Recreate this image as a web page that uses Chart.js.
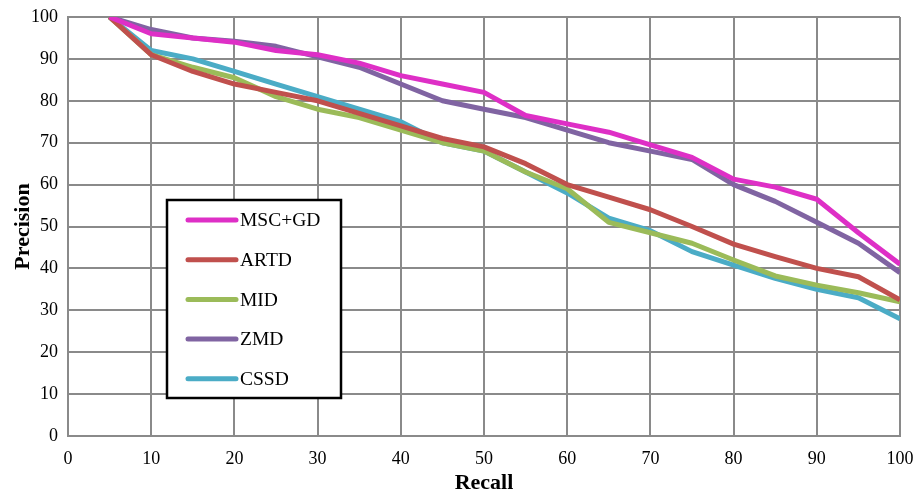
<!DOCTYPE html>
<html>
<head>
<meta charset="utf-8">
<script src="https://cdn.jsdelivr.net/npm/chart.js@4.4.1/dist/chart.umd.min.js"></script>
<style>
  html, body { margin: 0; padding: 0; background: #fff; }
  #wrap { width: 917px; height: 497px; }
</style>
</head>
<body>
<div id="wrap"><canvas id="prChart" width="917" height="497"></canvas></div>
<script>
// recall levels
const recall = [5, 10, 15, 20, 25, 30, 35, 40, 45, 50, 55, 60, 65, 70, 75, 80, 85, 90, 95, 100];

// precision per method
const mscgd = [100, 96, 95, 94, 92, 91, 89, 86, 84, 82, 76.5, 74.5, 72.5, 69.5, 66.5, 61.3, 59.4, 56.5, 48.5, 41];
const artd  = [100, 91, 87, 84, 82, 80, 77, 74, 71, 69, 65, 60, 57, 54, 50, 45.8, 42.8, 40, 38, 32.5];
const mid   = [100, 91, 88, 85.5, 81, 78, 76, 73, 70, 68, 63, 59, 51, 48.5, 46, 42, 38.2, 36, 34.2, 32];
const zmd   = [100, 97, 95, 94.2, 93, 90.5, 88, 84, 80, 78, 76, 73, 70, 68, 66, 60, 56, 51, 46, 39];
const cssd  = [100, 92, 90, 87, 84, 81, 78, 75, 70, 68, 63, 58, 52, 49, 44, 40.8, 37.6, 35, 33, 28];

const seriesNames = ['MSC+GD', 'ARTD', 'MID', 'ZMD', 'CSSD'];
const seriesColors = ['#de2fc6', '#c0504d', '#9bbb59', '#8064a2', '#4bacc6'];
const seriesData = [mscgd, artd, mid, zmd, cssd];

const serif = '"Liberation Serif", "Times New Roman", serif';

// legend box drawn inside the plot, like the original
const boxLegend = {
    id: 'boxLegend',
    afterDraw(chart) {
        const ctx = chart.ctx;
        const x0 = 167, y0 = 200, w = 174, h = 198;
        ctx.save();
        ctx.fillStyle = '#fff';
        ctx.fillRect(x0, y0, w, h);
        ctx.strokeStyle = '#000';
        ctx.lineWidth = 2.5;
        ctx.strokeRect(x0, y0, w, h);
        ctx.font = '19.5px ' + serif;
        ctx.textBaseline = 'middle';
        ctx.lineCap = 'round';
        chart.data.datasets.forEach((ds, i) => {
            const yy = y0 + 20 + i * 39.7;
            ctx.strokeStyle = ds.borderColor;
            ctx.lineWidth = 5;
            ctx.beginPath();
            ctx.moveTo(188, yy);
            ctx.lineTo(236, yy);
            ctx.stroke();
            ctx.fillStyle = '#000';
            ctx.fillText(ds.label, 240, yy + 1);
        });
        ctx.restore();
    }
};

const ctx = document.getElementById('prChart').getContext('2d');
new Chart(ctx, {
    type: 'line',
    data: {
        datasets: seriesNames.map((name, i) => ({
            label: name,
            data: recall.map((r, k) => ({ x: r, y: seriesData[i][k] })),
            borderColor: seriesColors[i],
            backgroundColor: seriesColors[i],
            borderWidth: 5,
            pointRadius: 0,
            tension: 0,
            borderJoinStyle: 'round',
            fill: false
        }))
    },
    options: {
        responsive: false,
        animation: false,
        layout: { padding: { top: 17, right: 17, left: 10, bottom: 0 } },
        plugins: {
            legend: { display: false },
            tooltip: { enabled: false }
        },
        scales: {
            x: {
                type: 'linear',
                min: 0, max: 100,
                ticks: { stepSize: 10, color: '#000', font: { family: serif, size: 18 }, padding: 12 },
                grid: { color: '#8a8a8a', lineWidth: 2, drawTicks: false },
                border: { color: '#8a8a8a', width: 2 },
                title: { display: true, text: 'Recall', color: '#000', font: { family: serif, size: 22, weight: 'bold' }, padding: { top: 3, bottom: 0 } },
                afterFit: s => { s.height = 61; s.paddingLeft = 0; s.paddingRight = 0; }
            },
            y: {
                min: 0, max: 100,
                ticks: { stepSize: 10, color: '#000', font: { family: serif, size: 18 }, padding: 10 },
                grid: { color: '#8a8a8a', lineWidth: 2, drawTicks: false },
                border: { color: '#8a8a8a', width: 2 },
                title: { display: true, text: 'Precision', color: '#000', font: { family: serif, size: 22, weight: 'bold' }, padding: { top: 0, bottom: 0 } },
                afterFit: s => { s.width = 58; s.paddingTop = 0; s.paddingBottom = 0; }
            }
        }
    },
    plugins: [boxLegend]
});
</script>
</body>
</html>
